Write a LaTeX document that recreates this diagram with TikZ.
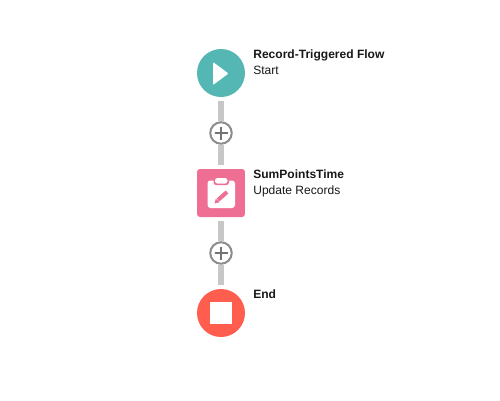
\documentclass[tikz,border=0pt]{standalone}
\usepackage{fontspec}
\setmainfont{Liberation Sans}
\usepackage{xcolor}
\definecolor{flowteal}{RGB}{84,183,179}
\definecolor{flowpink}{RGB}{238,111,147}
\definecolor{flowred}{RGB}{255,93,77}
\definecolor{linkgray}{RGB}{201,199,197}
\definecolor{ringgray}{RGB}{140,140,140}
\definecolor{plusgray}{RGB}{115,115,115}
\definecolor{labelink}{RGB}{24,24,24}

\begin{document}
\begin{tikzpicture}[
  x=0.02cm,y=-0.02cm,
  badge/.style={circle,minimum size=0.96cm,inner sep=0pt,outer sep=0.08cm},
  tile/.style={rectangle,rounded corners=0.06cm,minimum size=0.96cm,inner sep=0pt,outer sep=0.08cm},
  addbtn/.style={circle,draw=ringgray,line width=0.04cm,fill=white,minimum size=0.43cm,inner sep=0pt,
    path picture={
      \draw[plusgray,line width=0.025cm] ([xshift=-0.13cm]path picture bounding box.center) -- ([xshift=0.13cm]path picture bounding box.center);
      \draw[plusgray,line width=0.025cm] ([yshift=-0.13cm]path picture bounding box.center) -- ([yshift=0.13cm]path picture bounding box.center);
    }},
  link/.style={linkgray,line width=0.12cm},
  title/.style={anchor=base west,inner sep=0pt,text=labelink,font=\fontsize{6.85}{8}\selectfont\bfseries},
  sub/.style={anchor=base west,inner sep=0pt,text=labelink,font=\fontsize{6.85}{8}\selectfont}
]
\useasboundingbox[fill=white] (0,0) rectangle (500,400);
\node[badge,fill=flowteal] (start) at (221,73) {};
\node[addbtn] (plusa) at (221,133) {};
\node[tile,fill=flowpink] (update) at (221,193) {};
\node[addbtn] (plusb) at (221,253) {};
\node[badge,fill=flowred] (finish) at (221,313) {};
\draw[link] (start) -- (plusa);
\draw[link] (plusa) -- (update);
\draw[link] (update) -- (plusb);
\draw[link] (plusb) -- (finish);
% icons
\fill[white,rounded corners=0.02cm] (213,62) -- (228.5,73.5) -- (213,85) -- cycle;
\fill[white,rounded corners=0.06cm] (207.5,180.5) rectangle (235,208);
\fill[flowpink,rounded corners=0.05cm] (213.5,178) rectangle (229,185);
\fill[white,rounded corners=0.05cm] (215,178) rectangle (227.5,183.5);
\draw[flowpink,line width=0.08cm] (218,200) -- (227,192);
\fill[flowpink] (214.5,203.5) -- (215.8,198.6) -- (219.6,202.2) -- cycle;
\fill[white] (210,302) rectangle (232,324);
% labels
\node[title] (starttitle) at (253,58) {Record-Triggered Flow};
\node[sub] (startsub) at (253,74) {Start};
\node[title] (updatetitle) at (253,178) {SumPointsTime};
\node[sub] (updatesub) at (253,194) {Update Records};
\node[title] (finishtitle) at (253,298) {End};
\end{tikzpicture}
\end{document}
